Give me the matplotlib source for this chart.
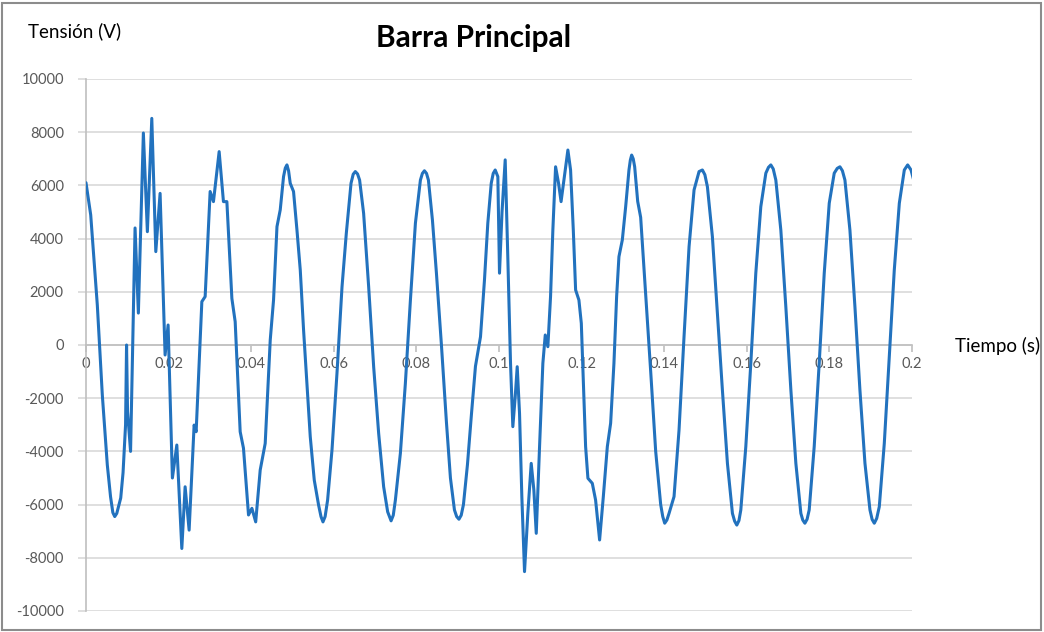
import matplotlib
matplotlib.use("Agg")
import matplotlib.pyplot as plt
from matplotlib.patches import Rectangle

plt.rcParams['font.family'] = ['Lato', 'DejaVu Sans']

title = "Barra Principal"
y_label = "Tensión (V)"
x_label = "Tiempo (s)"

x_ticks = [0, 0.02, 0.04, 0.06, 0.08, 0.1, 0.12, 0.14, 0.16, 0.18, 0.2]
x_tick_labels = ["0", "0.02", "0.04", "0.06", "0.08", "0.1", "0.12", "0.14", "0.16", "0.18", "0.2"]
y_ticks = [10000, 8000, 6000, 4000, 2000, 0, -2000, -4000, -6000, -8000, -10000]
y_tick_labels = ["10000", "8000", "6000", "4000", "2000", "0", "-2000", "-4000", "-6000", "-8000", "-10000"]

# time (s) and voltage (V)
time_s = [
    0.00000, 0.00114, 0.00274, 0.00395, 0.00516, 0.00594, 0.00650, 0.00696, 0.00745, 0.00841,
    0.00897, 0.00958, 0.00982, 0.01006, 0.01079, 0.01188, 0.01268, 0.01389, 0.01486, 0.01593,
    0.01690, 0.01794, 0.01915, 0.01988, 0.02092, 0.02199, 0.02320, 0.02400, 0.02497, 0.02618,
    0.02667, 0.02805, 0.02885, 0.03006, 0.03086, 0.03224, 0.03328, 0.03411, 0.03532, 0.03612,
    0.03733, 0.03813, 0.03935, 0.04017, 0.04109, 0.04218, 0.04339, 0.04461, 0.04541, 0.04624,
    0.04703, 0.04783, 0.04825, 0.04865, 0.04905, 0.04945, 0.05025, 0.05108, 0.05188, 0.05268,
    0.05350, 0.05430, 0.05527, 0.05632, 0.05690, 0.05738, 0.05790, 0.05850, 0.05956, 0.06077,
    0.06199, 0.06303, 0.06417, 0.06470, 0.06521, 0.06575, 0.06625, 0.06722, 0.06844, 0.06965,
    0.07086, 0.07207, 0.07304, 0.07387, 0.07440, 0.07491, 0.07612, 0.07733, 0.07855, 0.07976,
    0.08097, 0.08145, 0.08194, 0.08245, 0.08291, 0.08388, 0.08485, 0.08606, 0.08727, 0.08824,
    0.08921, 0.08975, 0.09030, 0.09085, 0.09139, 0.09236, 0.09333, 0.09430, 0.09552, 0.09648,
    0.09729, 0.09812, 0.09860, 0.09908, 0.09972, 0.10012, 0.10073, 0.10150, 0.10213, 0.10279,
    0.10335, 0.10393, 0.10441, 0.10497, 0.10553, 0.10618, 0.10698, 0.10780, 0.10844, 0.10902,
    0.10982, 0.11062, 0.11120, 0.11183, 0.11248, 0.11304, 0.11370, 0.11442, 0.11503, 0.11571,
    0.11668, 0.11733, 0.11799, 0.11855, 0.11935, 0.11993, 0.12041, 0.12097, 0.12153, 0.12259,
    0.12339, 0.12436, 0.12526, 0.12623, 0.12703, 0.12783, 0.12848, 0.12904, 0.12986, 0.13067,
    0.13147, 0.13180, 0.13212, 0.13250, 0.13285, 0.13358, 0.13430, 0.13552, 0.13673, 0.13794,
    0.13915, 0.13965, 0.14012, 0.14065, 0.14117, 0.14238, 0.14359, 0.14480, 0.14602, 0.14723,
    0.14844, 0.14925, 0.14985, 0.15046, 0.15167, 0.15288, 0.15409, 0.15531, 0.15652, 0.15705,
    0.15758, 0.15810, 0.15855, 0.15976, 0.16097, 0.16218, 0.16339, 0.16461, 0.16525, 0.16582,
    0.16640, 0.16703, 0.16824, 0.16945, 0.17067, 0.17188, 0.17309, 0.17355, 0.17406, 0.17460,
    0.17511, 0.17632, 0.17753, 0.17875, 0.17996, 0.18117, 0.18190, 0.18255, 0.18315, 0.18376,
    0.18497, 0.18618, 0.18739, 0.18861, 0.18982, 0.19035, 0.19087, 0.19145, 0.19208, 0.19329,
    0.19450, 0.19571, 0.19693, 0.19814, 0.19895, 0.19976, 0.20041,
]
voltage_v = [
    6100, 4890, 1500, -1880, -4510, -5700, -6300, -6450, -6330, -5750,
    -4800, -3000, 0, -2500, -4000, 4400, 1200, 7970, 4260, 8520,
    3510, 5700, -376, 752, -5000, -3760, -7650, -5330, -6960, -3010,
    -3260, 1630, 1820, 5770, 5390, 7270, 5390, 5390, 1750, 877,
    -3260, -3880, -6390, -6140, -6650, -4700, -3700, 190, 1690, 4450,
    5080, 6330, 6650, 6770, 6550, 6080, 5770, 4320, 2820, 564,
    -1440, -3450, -5080, -6020, -6450, -6650, -6450, -5830, -3950, -1060,
    2190, 4200, 6080, 6420, 6520, 6430, 6200, 4950, 2190, -816,
    -3320, -5330, -6270, -6610, -6400, -5830, -4070, -1440, 1690, 4580,
    6200, 6450, 6550, 6450, 6200, 4700, 2700, 0, -2900, -5000,
    -6200, -6450, -6550, -6400, -6000, -4500, -2600, -800, 310, 2440,
    4580, 6080, 6450, 6580, 6330, 2700, 5000, 6960, 3320, -690,
    -3070, -1940, -816, -2570, -5700, -8520, -6330, -4450, -5450, -7080,
    -3820, -690, 376, -64, 1820, 4320, 6700, 6080, 5390, 6200,
    7330, 6580, 4320, 2070, 1690, 816, -1320, -3820, -5010, -5200,
    -5830, -7330, -5700, -3820, -2940, -690, 1820, 3320, 3950, 5200,
    6580, 6950, 7140, 7000, 6700, 5400, 4800, 1900, -1000, -4000,
    -6000, -6450, -6700, -6580, -6330, -5700, -3200, 312, 3700, 5830,
    6520, 6580, 6400, 5950, 4070, 1190, -1690, -4450, -6330, -6620,
    -6770, -6600, -6200, -3820, -690, 2700, 5200, 6460, 6680, 6770,
    6620, 6200, 4320, 1440, -1690, -4450, -6330, -6580, -6700, -6550,
    -6200, -3820, -690, 2700, 5330, 6460, 6640, 6700, 6550, 6200,
    4320, 1440, -1690, -4450, -6200, -6560, -6700, -6520, -6080, -3700,
    -440, 2820, 5330, 6580, 6770, 6580, 6200,
]

W, H = 1044, 632
fig = plt.figure(figsize=(W / 100, H / 100), dpi=100)
fig.patch.set_facecolor('white')

left, right = 86 / W, 912 / W
top, bottom = 1 - 79 / H, 1 - 611 / H
ax = fig.add_axes([left, bottom, right - left, top - bottom])

grid_c = '#D9D9D9'
axis_c = '#BFBFBF'
text_c = '#595959'

ax.plot(time_s, voltage_v, color='#2272BE', linewidth=2.2, solid_joinstyle='round',
        solid_capstyle='round', zorder=3)

ax.set_xlim(0, 0.2)
ax.set_ylim(-10000, 10000)
ax.set_xticks(x_ticks)
ax.set_xticklabels(x_tick_labels)
ax.set_yticks(y_ticks)
ax.set_yticklabels(y_tick_labels)

ax.grid(axis='y', color=grid_c, linewidth=1.2)
ax.set_axisbelow(True)

for s in ['top', 'right']:
    ax.spines[s].set_visible(False)
ax.spines['left'].set_color(axis_c)
ax.spines['left'].set_linewidth(1.2)
ax.spines['bottom'].set_position(('data', 0))
ax.spines['bottom'].set_color(axis_c)
ax.spines['bottom'].set_linewidth(1.2)

ax.tick_params(axis='y', length=6, color=grid_c, width=1.2, labelsize=10.5,
               labelcolor=text_c, pad=10)
ax.tick_params(axis='x', length=5, direction='out', color=axis_c, width=1.2,
               labelsize=10.5, labelcolor=text_c, pad=4)

fig.text(474 / W, 1 - 38 / H, title, ha='center', va='center', fontsize=21.5,
         fontweight='bold', color='black')
fig.text(28 / W, 1 - 31 / H, y_label, ha='left', va='center', fontsize=13.5, color='black')
fig.text(955 / W, 1 - 346 / H, x_label, ha='left', va='center', fontsize=13.5, color='black')

fig.patches.append(Rectangle((2 / W, 2 / H), 1 - 5 / W, 1 - 5 / H, transform=fig.transFigure,
                             fill=False, edgecolor='#8C8C8C', linewidth=1.5))

fig.savefig('out.png', dpi=100, facecolor='white')
